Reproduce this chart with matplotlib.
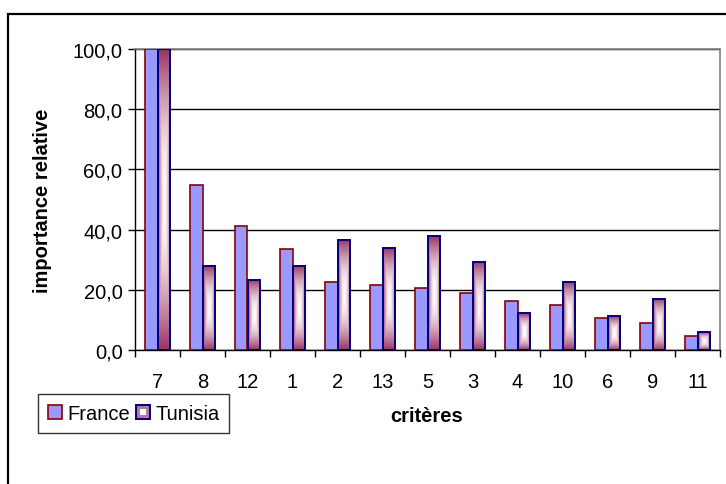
import numpy as np
import matplotlib.pyplot as plt
from matplotlib.patches import Rectangle
from matplotlib.legend_handler import HandlerBase

plt.rcParams["font.family"] = ["Liberation Sans", "DejaVu Sans"]

# -----------------------------------------
# data
# -----------------------------------------
criteres = ["7", "8", "12", "1", "2", "13", "5", "3", "4", "10", "6", "9", "11"]
france = [100.0, 54.9, 41.3, 33.5, 22.7, 21.7, 20.7, 19.0, 16.4, 14.8, 10.6, 9.0, 4.8]
tunisia = [100.0, 28.0, 23.3, 28.0, 36.6, 33.9, 37.8, 29.3, 12.2, 22.7, 11.2, 17.0, 5.9]
yticks = [0, 20, 40, 60, 80, 100]

# -----------------------------------------
# styles
# -----------------------------------------
france_fill = "#9999FF"
france_edge = "#8B0000"
tunisia_dark = np.array([0.60, 0.20, 0.40])
tunisia_edge = "#000080"
bar_w = 0.28
fs = 14.5


def box_gradient(nx=40, ny=200):
    # white at the centre, maroon towards every edge
    u = np.abs(np.linspace(-1, 1, nx))
    v = np.abs(np.linspace(-1, 1, ny))
    t = np.maximum(u[None, :], v[:, None]) ** 1.8
    img = np.ones((ny, nx, 3)) * (1 - t[..., None]) + tunisia_dark * t[..., None]
    return img


W, H = 726, 485
fig = plt.figure(figsize=(W / 100, H / 100), dpi=100)

# outer chart frame
fig.patches.append(Rectangle((8 / W, -0.1), 1.2, (H - 15) / H + 0.1,
                             transform=fig.transFigure, fill=False,
                             edgecolor="black", lw=1.6))

ax = fig.add_axes([135 / W, (H - 351) / H, (720 - 135) / W, (351 - 50) / H])

x = np.arange(len(criteres))
ax.bar(x - bar_w / 2, france, bar_w, color=france_fill, edgecolor=france_edge,
       lw=1.2, zorder=3)

grad = box_gradient()
for xi, val in zip(x, tunisia):
    x0, x1 = xi, xi + bar_w
    ax.imshow(grad, extent=[x0, x1, 0, val], aspect="auto", zorder=3,
              interpolation="bilinear")
ax.bar(x + bar_w / 2, tunisia, bar_w, facecolor="none", edgecolor=tunisia_edge,
       lw=1.4, zorder=4)

ax.set_xlim(-0.5, len(criteres) - 0.5)
ax.set_ylim(0, 100)
ax.set_aspect("auto")

# gridlines
ax.set_yticks(yticks)
ax.set_yticklabels([f"{v:.1f}".replace(".", ",") for v in yticks], fontsize=fs)
ax.yaxis.grid(True, color="black", lw=1.0)
ax.set_axisbelow(True)

# category labels between boundary ticks
ax.set_xticks(x)
ax.set_xticklabels(criteres, fontsize=fs)
ax.tick_params(axis="x", length=0, pad=16)
ax.set_xticks(np.arange(-0.5, len(criteres)), minor=True)
ax.tick_params(axis="x", which="minor", length=5, width=1.0, direction="out")
ax.tick_params(axis="y", length=5, width=1.0, direction="out", pad=4)

for side in ["top", "right"]:
    ax.spines[side].set_color("#808080")
    ax.spines[side].set_linewidth(1.2)
ax.spines["left"].set_linewidth(1.0)
ax.spines["bottom"].set_linewidth(1.0)

ax.set_ylabel("importance relative", fontsize=fs, fontweight="bold")
ax.yaxis.set_label_coords(-0.142, 0.5)
fig.text(427 / W, 1 - 417 / H, "critères", fontsize=fs, fontweight="bold",
         ha="center", va="center")


# legend with a small gradient-like square for Tunisia
class TunisiaHandler(HandlerBase):
    def create_artists(self, legend, orig_handle, xd, yd, width, height,
                       fontsize, trans):
        outer = Rectangle((xd, yd), width, height, facecolor="#B57A98",
                          edgecolor=tunisia_edge, lw=1.4, transform=trans)
        inner = Rectangle((xd + width * 0.3, yd + height * 0.3), width * 0.4,
                          height * 0.4, facecolor="white", edgecolor="none",
                          transform=trans)
        return [outer, inner]


h_fr = Rectangle((0, 0), 1, 1, facecolor=france_fill, edgecolor=france_edge, lw=1.2)
h_tn = Rectangle((0, 0), 1, 1)
leg = fig.legend([h_fr, h_tn], ["France", "Tunisia"], ncol=2,
                 loc="upper left", bbox_to_anchor=(38 / W, 1 - 395 / H),
                 fontsize=fs, frameon=True, fancybox=False, shadow=False,
                 handlelength=0.7, handleheight=0.7, handletextpad=0.25,
                 columnspacing=0.3, borderpad=0.5, borderaxespad=0,
                 handler_map={h_tn: TunisiaHandler()})
leg.get_frame().set_edgecolor("black")
leg.get_frame().set_linewidth(1.0)

fig.savefig("out.png", dpi=100)
